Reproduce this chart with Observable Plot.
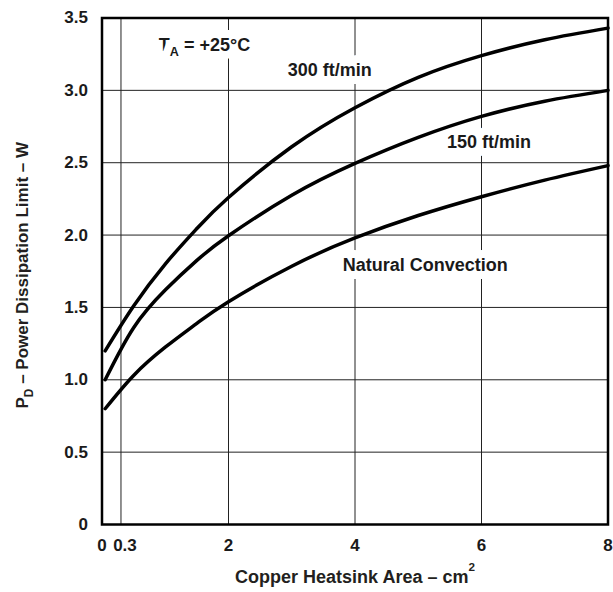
<!DOCTYPE html>
<html><head><meta charset="utf-8">
<script src="https://cdn.jsdelivr.net/npm/d3@7"></script>
<script src="https://cdn.jsdelivr.net/npm/@observablehq/plot@0.6"></script>
<style>body{margin:0;background:#fff}</style>
</head><body><div id="chart"></div>
<script>
// Copper heatsink area (cm^2)
const area    = [0.05, 0.5, 1.0, 1.5, 2.0, 3.0, 4.0, 5.0, 6.0, 7.0, 8.0];
// Power dissipation limit (W)
const natural = [0.80, 1.03, 1.225, 1.39, 1.54, 1.785, 1.98, 2.135, 2.265, 2.38, 2.48];
const ft150   = [1.00, 1.36, 1.62, 1.825, 1.995, 2.275, 2.495, 2.675, 2.82, 2.925, 3.00];
const ft300   = [1.20, 1.51, 1.80, 2.045, 2.26, 2.61, 2.88, 3.09, 3.24, 3.35, 3.43];

const xTicks = [0, 2, 4, 6, 8];
const xTickExtra = [0.3];
const yTicks = [0, 0.5, 1.0, 1.5, 2.0, 2.5, 3.0, 3.5];
const xGrid = [0.3, 2, 4, 6];
const yGrid = [0.5, 1.0, 1.5, 2.0, 2.5, 3.0];

const seriesNames = ["Natural Convection", "150 ft/min", "300 ft/min"];
const seriesValues = [natural, ft150, ft300];

// annotation labels (data coordinates)
const labelText = ["T_A = +25°C", "300 ft/min", "150 ft/min", "Natural Convection"];
const labelX = [1.62, 3.60, 6.12, 5.11];
const labelY = [3.31, 3.14, 2.64, 1.79];

const xTitle = "Copper Heatsink Area – cm^2";
const yTitle = "P_D – Power Dissipation Limit – W";

const table = seriesNames.flatMap((s, i) => area.map((a, j) => ({series: s, area: a, p: seriesValues[i][j]})));
const labels = labelText.map((t, i) => ({text: t, x: labelX[i], y: labelY[i]}));

const font = "'Liberation Sans', Arial, Helvetica, sans-serif";
const ink = "#1a1a1a";

const chart = Plot.plot({
  width: 613, height: 592,
  marginLeft: 101.5, marginRight: 5.5, marginTop: 17.5, marginBottom: 68,
  x: {domain: [0, 8]},
  y: {domain: [0, 3.5]},
  style: {fontFamily: font, fontWeight: "bold", background: "white", color: ink},
  marks: [
    Plot.ruleX(xGrid, {stroke: "#222", strokeWidth: 1}),
    Plot.ruleY(yGrid, {stroke: "#222", strokeWidth: 1}),
    Plot.text(labels, {x: "x", y: "y", text: "text", fontSize: 18, fontWeight: "bold",
      fill: ink, stroke: "white", strokeWidth: 16, strokeLinejoin: "round"}),
    Plot.line(table, {x: "area", y: "p", z: "series", stroke: "black", strokeWidth: 3.5, curve: "natural"}),
    Plot.frame({stroke: "black", strokeWidth: 2.5}),
    Plot.axisX(xTicks, {tickSize: 0, tickPadding: 14, fontSize: 17, fontWeight: "bold", label: null, fill: ink, tickFormat: d => String(d)}),
    Plot.axisX(xTickExtra, {tickSize: 0, tickPadding: 14, dx: 4, fontSize: 17, fontWeight: "bold", label: null, fill: ink, tickFormat: d => String(d)}),
    Plot.axisY(yTicks, {tickSize: 0, tickPadding: 14, fontSize: 17, fontWeight: "bold", label: null, fill: ink,
      tickFormat: d => d === 0 ? "0" : d.toFixed(1)}),
    Plot.text([xTitle], {text: d => d, frameAnchor: "bottom", textAnchor: "middle", lineAnchor: "middle", dy: 53, fontSize: 18, fontWeight: "bold", fill: "#231f20"}),
    Plot.text([yTitle], {text: d => d, frameAnchor: "left", textAnchor: "middle", lineAnchor: "middle", rotate: -90, dx: -79.5, dy: 4, fontSize: 17, fontWeight: "bold", fill: "#231f20"})
  ]
});

// rich text: _X subscript, ^X superscript
d3.select(chart).selectAll("text").each(function() {
  const t = this.textContent;
  const m = t.match(/^(.*?)([_^])(\w)(.*)$/);
  if (!m) return;
  const el = d3.select(this);
  el.text(null);
  const sub = m[2] === "_";
  const shift = sub ? 5 : -12;
  el.append("tspan").text(m[1]);
  el.append("tspan").attr("dy", shift).attr("font-size", sub ? "0.7em" : "0.65em").text(m[3]);
  if (m[4]) el.append("tspan").attr("dy", -shift).text(m[4]);
});

document.getElementById("chart").appendChild(chart);
</script>
</body></html>
